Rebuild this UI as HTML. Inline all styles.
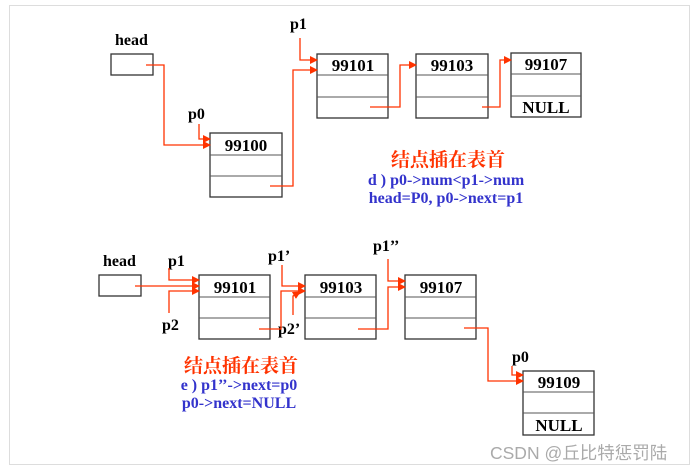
<!DOCTYPE html>
<html><head><meta charset="utf-8"><style>
html,body{margin:0;padding:0;background:#fff;}
svg{display:block;}
.b{font-family:"Liberation Serif",serif;font-weight:bold;font-size:16px;fill:#000;}
.n{font-family:"Liberation Serif",serif;font-weight:bold;font-size:17px;fill:#000;}
.cn{font-family:"Noto Serif CJK SC","Noto Sans CJK SC",serif;font-weight:bold;font-size:19px;fill:#ff3300;}
.bl{font-family:"Liberation Serif",serif;font-weight:bold;font-size:16px;fill:#3333cc;}
rect.box{fill:#fff;stroke:#333;stroke-width:1.3;}
line.r{stroke:#555;stroke-width:1;}
polyline{fill:none;stroke:#ff3300;stroke-width:1.3;}
</style></head><body>
<svg width="697" height="469" viewBox="0 0 697 469" xmlns="http://www.w3.org/2000/svg">
<defs><marker id="a" markerWidth="8" markerHeight="8" refX="7" refY="4" orient="auto" markerUnits="userSpaceOnUse"><path d="M0,0 L8,4 L0,8 Z" fill="#ff3300"/></marker></defs>
<rect x="9.5" y="5.5" width="680" height="459" fill="none" stroke="#ddd" stroke-width="1"/>

<!-- TOP -->
<text class="b" x="115" y="45">head</text>
<rect class="box" x="111" y="54" width="42" height="21"/>
<text class="b" x="188" y="119">p0</text>
<rect class="box" x="210" y="133" width="72" height="64"/>
<line class="r" x1="210" y1="155" x2="282" y2="155"/><line class="r" x1="210" y1="176" x2="282" y2="176"/>
<text class="n" x="246" y="151" text-anchor="middle">99100</text>
<text class="b" x="290" y="29">p1</text>
<rect class="box" x="317" y="54" width="71" height="64"/>
<line class="r" x1="317" y1="75" x2="388" y2="75"/><line class="r" x1="317" y1="97" x2="388" y2="97"/>
<text class="n" x="353" y="71" text-anchor="middle">99101</text>
<rect class="box" x="416" y="54" width="72" height="64"/>
<line class="r" x1="416" y1="75" x2="488" y2="75"/><line class="r" x1="416" y1="97" x2="488" y2="97"/>
<text class="n" x="452" y="71" text-anchor="middle">99103</text>
<rect class="box" x="511" y="53" width="70" height="64"/>
<line class="r" x1="511" y1="74" x2="581" y2="74"/><line class="r" x1="511" y1="96" x2="581" y2="96"/>
<text class="n" x="546" y="70" text-anchor="middle">99107</text>
<text class="n" x="546" y="113" text-anchor="middle">NULL</text>

<polyline points="146,65 164,65 164,145 210,145" marker-end="url(#a)"/>
<polyline points="199,124 199,139 210,139" marker-end="url(#a)"/>
<polyline points="300,38 300,60 317,60" marker-end="url(#a)"/>
<polyline points="270,186 293,186 293,70 317,70" marker-end="url(#a)"/>
<polyline points="370,107 400,107 400,65 416,65" marker-end="url(#a)"/>
<polyline points="482,107 500,107 500,60 511,60" marker-end="url(#a)"/>

<text class="cn" x="448" y="166" text-anchor="middle">结点插在表首</text>
<text class="bl" x="446" y="185" text-anchor="middle">d ) p0-&gt;num&lt;p1-&gt;num</text>
<text class="bl" x="446" y="203" text-anchor="middle">head=P0, p0-&gt;next=p1</text>

<!-- BOTTOM -->
<text class="b" x="103" y="266">head</text>
<rect class="box" x="99" y="275" width="42" height="21"/>
<text class="b" x="168" y="266">p1</text>
<text class="b" x="162" y="330">p2</text>
<rect class="box" x="199" y="275" width="71" height="64"/>
<line class="r" x1="199" y1="297" x2="270" y2="297"/><line class="r" x1="199" y1="318" x2="270" y2="318"/>
<text class="n" x="235" y="293" text-anchor="middle">99101</text>
<text class="b" x="268" y="261">p1’</text>
<text class="b" x="278" y="334">p2’</text>
<rect class="box" x="305" y="275" width="71" height="64"/>
<line class="r" x1="305" y1="297" x2="376" y2="297"/><line class="r" x1="305" y1="318" x2="376" y2="318"/>
<text class="n" x="341" y="293" text-anchor="middle">99103</text>
<text class="b" x="373" y="251">p1’’</text>
<rect class="box" x="405" y="275" width="71" height="64"/>
<line class="r" x1="405" y1="297" x2="476" y2="297"/><line class="r" x1="405" y1="318" x2="476" y2="318"/>
<text class="n" x="441" y="293" text-anchor="middle">99107</text>
<text class="b" x="512" y="362">p0</text>
<rect class="box" x="523" y="371" width="71" height="64"/>
<line class="r" x1="523" y1="392" x2="594" y2="392"/><line class="r" x1="523" y1="413" x2="594" y2="413"/>
<text class="n" x="559" y="388" text-anchor="middle">99109</text>
<text class="n" x="559" y="431" text-anchor="middle">NULL</text>

<polyline points="135,286 199,286" marker-end="url(#a)"/>
<polyline points="169,268 169,280 199,280" marker-end="url(#a)"/>
<polyline points="169,313 169,291 199,291" marker-end="url(#a)"/>
<polyline points="282,265 282,286 305,286" marker-end="url(#a)"/>
<polyline points="259,329 281,329 281,291 305,291" marker-end="url(#a)"/>
<polyline points="293,315 293,296 300,292" marker-end="url(#a)"/>
<polyline points="388,259 388,281 405,281" marker-end="url(#a)"/>
<polyline points="358,329 388,329 388,287 405,287" marker-end="url(#a)"/>
<polyline points="464,328 488,328 488,381 523,381" marker-end="url(#a)"/>
<polyline points="512,366 512,375 523,375" marker-end="url(#a)"/>

<text class="cn" x="241" y="372" text-anchor="middle">结点插在表首</text>
<text class="bl" x="239" y="390" text-anchor="middle">e ) p1’’-&gt;next=p0</text>
<text class="bl" x="239" y="408" text-anchor="middle">p0-&gt;next=NULL</text>

<text x="490" y="459" style="font-family:'Liberation Sans','Noto Sans CJK SC',sans-serif;font-size:17.5px;fill:#aaa;">CSDN @丘比特惩罚陆</text>
</svg>
</body></html>
